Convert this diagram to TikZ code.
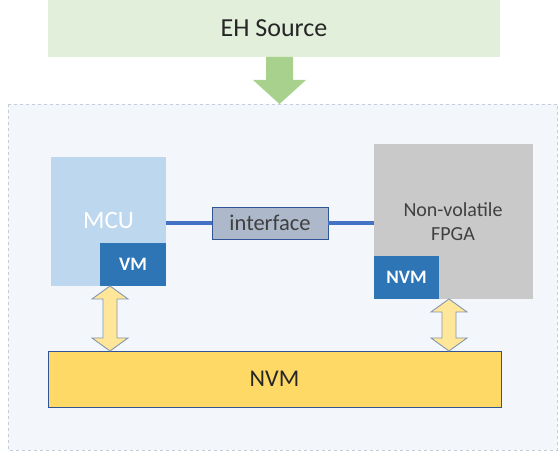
\documentclass[tikz,border=0pt]{standalone}
\usepackage{fontspec}
\setmainfont{Carlito}
\usetikzlibrary{calc}
\definecolor{ehgreen}{HTML}{E2EFDA}
\definecolor{arrgreen}{HTML}{A9D18E}
\definecolor{contfill}{HTML}{F3F7FC}
\definecolor{contline}{HTML}{C5CDD8}
\definecolor{mcublue}{HTML}{BDD7EE}
\definecolor{vmblue}{HTML}{2E75B6}
\definecolor{fpgagray}{HTML}{C9C9C9}
\definecolor{ifill}{HTML}{ADB9CA}
\definecolor{iline}{HTML}{4472C4}
\definecolor{nvmyellow}{HTML}{FFD966}
\definecolor{nvmline}{HTML}{2F5597}
\definecolor{dafill}{HTML}{FFE699}
\definecolor{daline}{HTML}{8497B0}
\definecolor{txtdark}{HTML}{262626}
\definecolor{txtgray}{HTML}{404040}
\tikzset{
  box/.style={inner sep=0pt, outer sep=0pt, anchor=north west, align=center},
  memsmall/.style={box, fill=vmblue, text=white, font=\fontsize{19}{22}\selectfont\bfseries},
  dblarrow/.style={fill=dafill, draw=daline, line width=0.9pt, line join=miter},
}
\begin{document}
\begin{tikzpicture}[x=1pt,y=-1pt]
\useasboundingbox (0,0) rectangle (558,454);
% container
\draw[fill=contfill, draw=contline, dashed, line width=0.6pt] (8,104) rectangle (557.5,450);
% EH source
\node[box, fill=ehgreen, minimum width=452pt, minimum height=57pt, text=txtdark,
      font=\fontsize{26}{29}\selectfont] (eh) at (48,0) {EH Source};
% green arrow
\coordinate (gtip) at (279.5,104);
\fill[arrgreen] (266,57) -- (293,57) -- (293,80) -- (306,80) -- (gtip) -- (253,80) -- (266,80) -- cycle;
% MCU
\node[box, fill=mcublue, minimum width=115pt, minimum height=129pt] (mcu) at (51,157) {};
\node[text=white, font=\fontsize{25}{28}\selectfont, inner sep=0pt] (mcut) at (108.5,220) {MCU};
\node[memsmall, minimum width=66pt, minimum height=43pt] (vm) at (100,243) {VM};
% FPGA
\node[box, fill=fpgagray, minimum width=159pt, minimum height=155pt] (fpga) at (374,144) {};
\node[text=txtgray, font=\fontsize{20}{24}\selectfont, align=center, inner sep=0pt] (fpgat) at (453,222) {Non-volatile\\FPGA};
\node[memsmall, minimum width=65pt, minimum height=43pt] (nvms) at (374,256) {NVM};
% interface
\node[box, fill=ifill, draw=nvmline, line width=0.8pt, minimum width=116pt, minimum height=32pt,
      text=txtgray, font=\fontsize{22.5}{24}\selectfont] (intf) at (212,207) {interface};
\draw[iline, line width=3.5pt] (mcu.east |- intf.west) -- (intf.west);
\draw[iline, line width=3.5pt] (intf.east) -- (fpga.west |- intf.east);
% big NVM
\node[box, fill=nvmyellow, draw=nvmline, line width=0.9pt, minimum width=453pt, minimum height=56pt,
      text=txtdark, font=\fontsize{24}{26}\selectfont] (nvm) at (48,351) {NVM};
% double arrows
\begin{scope}[shift={(110,286)}]
\draw[dblarrow] (0,0) -- (18,13) -- (7,13) -- (7,52) -- (18,52) -- (0,65) -- (-18,52) -- (-7,52) -- (-7,13) -- (-18,13) -- cycle;
\end{scope}
\begin{scope}[shift={(449,299)}]
\draw[dblarrow] (0,0) -- (18,13) -- (7,13) -- (7,39) -- (18,39) -- (0,52) -- (-18,39) -- (-7,39) -- (-7,13) -- (-18,13) -- cycle;
\end{scope}
\end{tikzpicture}
\end{document}
